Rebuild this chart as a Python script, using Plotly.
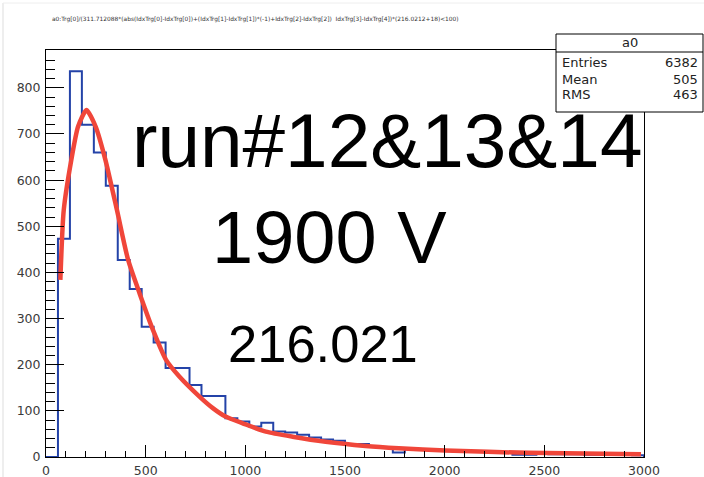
import plotly.graph_objects as go

# ---------------- data ----------------
bin_width = 60
x_min, x_max = 0, 3000
counts = [0, 473, 836, 720, 660, 588, 427, 364, 282, 248,
          193, 193, 156, 132, 132, 84, 77, 66, 74, 55,
          53, 48, 42, 38, 35, 27, 28, 22, 20, 10,
          17, 17, 16, 15, 12, 12, 11, 11, 10, 5,
          5, 7, 6, 6, 6, 5, 5, 5, 5, 4]
fit_x = [72, 89, 127, 161, 203, 249, 298, 356, 412, 470, 537, 603, 670, 770,
         837, 903, 987, 1103, 1237, 1403, 1603, 1770, 2003, 2420, 2985]
fit_y = [384, 535, 644, 716, 752, 716, 644, 535, 427, 354, 275, 210, 174, 131,
         106, 87, 73, 55, 44, 33, 24, 19, 14, 9, 6]
y_max = 882
title_text = ("a0:Trg[0]/(311.712088*(abs(IdxTrg[0]-IdxTrg[0])+(IdxTrg[1]-IdxTrg[1])*(-1)"
              "+IdxTrg[2]-IdxTrg[2])  IdxTrg[3]-IdxTrg[4])*(216.0212+18)<100)")
stats_name = "a0"
stats_labels = ["Entries", "Mean", "RMS"]
stats_values = ["6382", "505", "463"]
big_texts = ["run#12&13&14", "1900 V", "216.021"]

# ---------------- geometry (pixels) ----------------
W, H = 704, 477
L, R, T, B = 46, 644, 50, 457


def px(x):
    return (x - L) / (R - L)


def py(y):
    return (B - y) / (B - T)


# histogram outline
hx = [x_min + i * bin_width for i in range(len(counts))] + [x_max, x_max]
hy = counts + [counts[-1], 0]

fig = go.Figure()
fig.add_trace(go.Scatter(x=hx, y=hy, mode="lines", line=dict(color="#2443a8", width=2, shape="hv"),
                         hoverinfo="skip", showlegend=False))
fig.add_trace(go.Scatter(x=fit_x, y=fit_y, mode="lines",
                         line=dict(color="#f0463a", width=4.5, shape="spline", smoothing=0.6),
                         hoverinfo="skip", showlegend=False))

tickfont = dict(family="DejaVu Sans", size=12.5, color="#3a3a3a")
fig.update_xaxes(range=[x_min, x_max], showgrid=False, zeroline=False, automargin=False,
                 showline=True, mirror=True, linecolor="black", linewidth=1,
                 ticks="inside", ticklen=12, tickwidth=1, tickcolor="black",
                 tick0=0, dtick=500, tickfont=tickfont, ticklabelstandoff=2,
                 minor=dict(ticks="inside", ticklen=6, tickwidth=1, tickcolor="black", dtick=100, showgrid=False))
fig.update_yaxes(range=[0, y_max], showgrid=False, zeroline=False, automargin=False,
                 showline=True, mirror=True, linecolor="black", linewidth=1,
                 ticks="inside", ticklen=18, tickwidth=1, tickcolor="black",
                 tick0=0, dtick=100, tickfont=tickfont, ticklabelstandoff=2,
                 minor=dict(ticks="inside", ticklen=9, tickwidth=1, tickcolor="black", dtick=20, showgrid=False))

shapes = [
    dict(type="line", xref="paper", yref="paper", x0=px(3), x1=px(3), y0=py(3), y1=py(477),
         line=dict(color="#dddddd", width=1)),
    dict(type="line", xref="paper", yref="paper", x0=px(3), x1=px(704), y0=py(3), y1=py(3),
         line=dict(color="#eeeeee", width=1)),
    dict(type="rect", xref="paper", yref="paper", x0=px(556), x1=px(703), y0=py(112), y1=py(34),
         fillcolor="white", line=dict(color="black", width=1), layer="above"),
    dict(type="line", xref="paper", yref="paper", x0=px(556), x1=px(703), y0=py(52), y1=py(52),
         line=dict(color="black", width=1), layer="above"),
]

statfont = dict(family="DejaVu Sans", size=13, color="#222222")
ann = [
    dict(text=title_text, x=px(255), y=py(19), xanchor="center", yanchor="middle",
         font=dict(family="DejaVu Sans", size=5.9, color="#333333")),
    dict(text=stats_name, x=px(630), y=py(43), xanchor="center", yanchor="middle", font=statfont),
]
row_y = [63, 79, 95]
for lab, val, yy in zip(stats_labels, stats_values, row_y):
    ann.append(dict(text=lab, x=px(560), y=py(yy), xanchor="left", yanchor="middle", font=statfont))
    ann.append(dict(text=val, x=px(700), y=py(yy), xanchor="right", yanchor="middle", font=statfont))

ann.append(dict(text=big_texts[0], x=px(387), y=py(140), xanchor="center", yanchor="middle",
                font=dict(family="Liberation Sans", size=76.5, color="black")))
ann.append(dict(text=big_texts[1], x=px(329), y=py(237), xanchor="center", yanchor="middle",
                font=dict(family="Liberation Sans", size=74, color="black")))
ann.append(dict(text=big_texts[2], x=px(322.5), y=py(343.5), xanchor="center", yanchor="middle",
                font=dict(family="Liberation Sans", size=52.5, color="black")))
for a in ann:
    a.update(xref="paper", yref="paper", showarrow=False)

fig.update_layout(width=W, height=H, autosize=False,
                  margin=dict(l=L, r=W - R, t=T, b=H - B, pad=0),
                  paper_bgcolor="white", plot_bgcolor="white",
                  font=dict(family="DejaVu Sans"),
                  shapes=shapes, annotations=ann, showlegend=False)

fig.write_html("out.html", config={"displayModeBar": False},
               post_script="document.body.style.margin='0';document.body.style.overflow='hidden';")
